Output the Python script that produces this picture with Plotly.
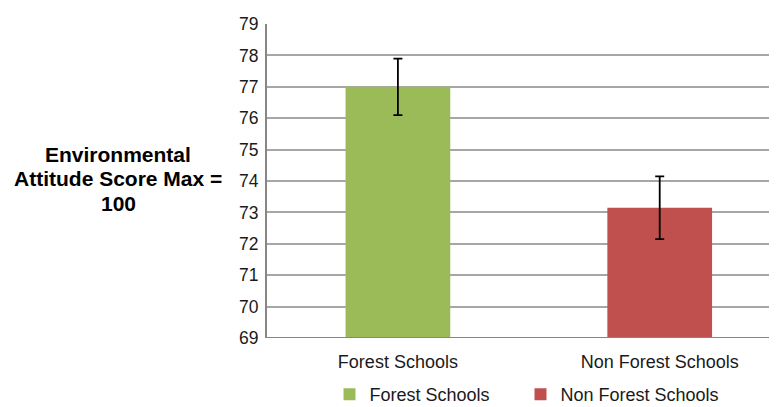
import plotly.graph_objects as go

categories = ["Forest Schools", "Non Forest Schools"]
scores = [77.0, 73.15]
errors = [0.9, 1.0]
colors = ["#9BBB59", "#C0504D"]
y_ticks = [69, 70, 71, 72, 73, 74, 75, 76, 77, 78, 79]
y_title_lines = ["Environmental", "Attitude Score Max =", "100"]

FONT = "Liberation Sans, Arial, sans-serif"
# the page body has an 8px margin, so the figure is sized to fit the window
W, H = 769, 399
ML, MT, MB = 259, 16, 69
PH = H - MT - MB
PW = W - ML

legend_ids = ["legend", "legend2"]
legend_square_x = [349, 540]  # screen position of each legend swatch centre

fig = go.Figure()
for i, cat in enumerate(categories):
    fig.add_trace(go.Bar(
        x=[cat], y=[scores[i]], name=cat,
        marker=dict(color=colors[i], line=dict(width=0)),
        width=0.4, legend=legend_ids[i],
        error_y=dict(type="data", array=[errors[i]], visible=True,
                     color="black", thickness=1.8, width=4.5),
    ))

annotations = []
for k, line in enumerate(y_title_lines):
    yscreen = 154 + 24.5 * k - 8
    annotations.append(dict(
        text="<b>" + line + "</b>", xref="paper", yref="paper",
        x=(118 - 8 - ML) / PW, y=(MT + PH - yscreen) / PH,
        xanchor="center", yanchor="middle", showarrow=False,
        font=dict(size=21, family=FONT, color="black")))

legends = {}
for i, lid in enumerate(legend_ids):
    legends[lid] = dict(
        orientation="h", xref="paper", yref="container",
        x=(legend_square_x[i] - 8 - 19.5 - ML) / PW, xanchor="left",
        y=(H - (396 - 8 - 20)) / H, yanchor="top",
        font=dict(size=18, family=FONT, color="#1a1a1a"),
        itemwidth=30, bgcolor="rgba(0,0,0,0)")

fig.update_layout(
    width=W, height=H,
    margin=dict(l=ML, r=0, t=MT, b=MB, autoexpand=False),
    plot_bgcolor="white", paper_bgcolor="white",
    font=dict(family=FONT, size=18, color="#1a1a1a"),
    barmode="overlay",
    showlegend=True,
    xaxis=dict(range=[-0.5, 1.448], showgrid=False, showline=False, zeroline=False,
               ticks="", ticklabelstandoff=11, tickfont=dict(size=18, family=FONT)),
    yaxis=dict(range=[69, 79], tickvals=y_ticks, showgrid=True, gridcolor="#A6A6A6",
               gridwidth=1.6, showline=True, linecolor="#868686", linewidth=2,
               zeroline=False, ticks="", ticklabelstandoff=3,
               tickfont=dict(size=17.5, family=FONT)),
    annotations=annotations,
    **legends,
)
fig.add_shape(type="line", xref="paper", yref="y", x0=0, x1=1, y0=69, y1=69,
              line=dict(color="#868686", width=2))

fig.write_html("out.html")
